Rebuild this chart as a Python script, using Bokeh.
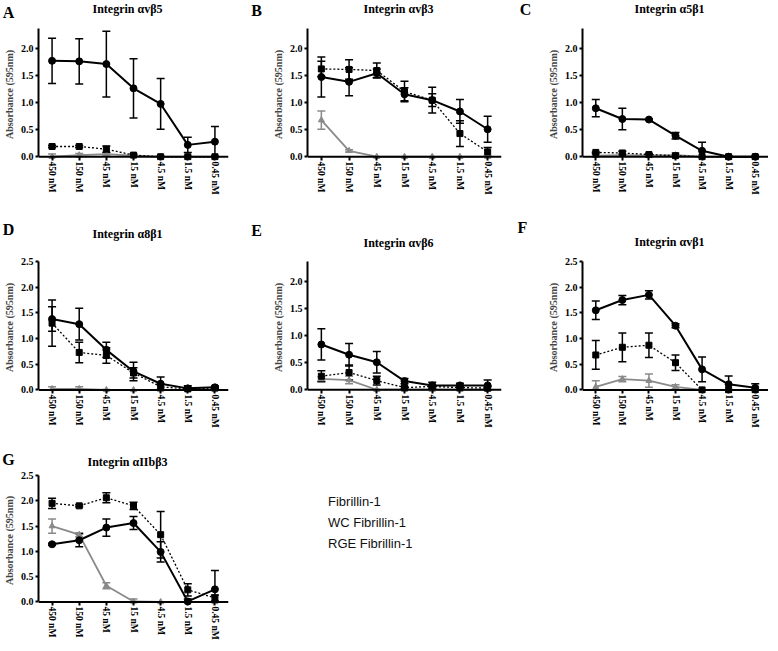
from bokeh.plotting import figure
from bokeh.models import (ColumnDataSource, FactorRange, Range1d, Whisker, TeeHead, Span,
                          FixedTicker, PrintfTickFormatter, Label, Legend, LegendItem)
from bokeh.layouts import row, column
from bokeh.embed import file_html
from bokeh.resources import INLINE

# ---------------- data ----------------
concentrations = ["450 nM", "150 nM", "45 nM", "15 nM", "4.5 nM", "1.5 nM", "0.45 nM"]
series_names = ["Fibrillin-1", "WC Fibrillin-1", "RGE Fibrillin-1"]

# A: Integrin avb5
a_fib = [1.78, 1.77, 1.72, 1.27, 0.98, 0.22, 0.28]
a_fib_err = [0.42, 0.42, 0.61, 0.55, 0.47, 0.14, 0.28]
a_wc = [0.19, 0.19, 0.14, 0.03, 0.0, 0.0, 0.0]
a_wc_err = [0.02, 0.02, 0.06, 0.02, 0.01, 0.01, 0.01]
a_rge = [0.0, 0.03, 0.05, 0.02, 0.0, 0.0, 0.0]
a_rge_err = [0.05, 0.03, 0.03, 0.02, 0.01, 0.01, 0.01]

# B: Integrin avb3
b_fib = [1.48, 1.39, 1.55, 1.16, 1.05, 0.84, 0.51]
b_fib_err = [0.37, 0.26, 0.08, 0.12, 0.24, 0.22, 0.24]
b_wc = [1.63, 1.62, 1.60, 1.21, 1.05, 0.43, 0.09]
b_wc_err = [0.14, 0.18, 0.14, 0.19, 0.12, 0.24, 0.08]
b_rge = [0.68, 0.11, 0.0, 0.0, 0.0, 0.0, 0.0]
b_rge_err = [0.17, 0.02, 0.0, 0.0, 0.0, 0.0, 0.0]

# C: Integrin a5b1
c_fib = [0.90, 0.70, 0.69, 0.39, 0.11, 0.0, 0.0]
c_fib_err = [0.16, 0.20, 0.01, 0.06, 0.16, 0.02, 0.01]
c_wc = [0.08, 0.07, 0.04, 0.02, 0.0, 0.0, 0.0]
c_wc_err = [0.01, 0.03, 0.02, 0.01, 0.0, 0.0, 0.0]
c_rge = [0.02, 0.03, 0.02, 0.03, 0.0, 0.0, 0.0]
c_rge_err = [0.02, 0.02, 0.02, 0.04, 0.0, 0.0, 0.0]

# D: Integrin a8b1
d_fib = [1.38, 1.28, 0.78, 0.36, 0.12, 0.03, 0.05]
d_fib_err = [0.24, 0.31, 0.15, 0.18, 0.13, 0.05, 0.02]
d_wc = [1.30, 0.73, 0.67, 0.33, 0.06, 0.02, 0.04]
d_wc_err = [0.45, 0.20, 0.15, 0.10, 0.05, 0.02, 0.02]
d_rge = [0.02, 0.02, 0.0, 0.0, 0.0, 0.0, 0.0]
d_rge_err = [0.04, 0.04, 0.01, 0.0, 0.0, 0.0, 0.0]

# E: Integrin avb6
e_fib = [0.84, 0.65, 0.51, 0.16, 0.08, 0.08, 0.08]
e_fib_err = [0.29, 0.21, 0.20, 0.05, 0.06, 0.04, 0.10]
e_wc = [0.25, 0.32, 0.17, 0.04, 0.06, 0.04, 0.03]
e_wc_err = [0.10, 0.14, 0.08, 0.02, 0.03, 0.03, 0.03]
e_rge = [0.20, 0.18, 0.0, 0.0, 0.0, 0.0, 0.0]
e_rge_err = [0.04, 0.07, 0.0, 0.0, 0.0, 0.0, 0.0]

# F: Integrin avb1
f_fib = [1.55, 1.75, 1.85, 1.25, 0.40, 0.11, 0.04]
f_fib_err = [0.18, 0.09, 0.08, 0.04, 0.24, 0.16, 0.08]
f_wc = [0.68, 0.83, 0.87, 0.53, 0.0, 0.0, 0.0]
f_wc_err = [0.28, 0.28, 0.24, 0.15, 0.0, 0.0, 0.0]
f_rge = [0.06, 0.21, 0.18, 0.06, 0.0, 0.0, 0.0]
f_rge_err = [0.12, 0.05, 0.13, 0.04, 0.0, 0.0, 0.0]

# G: Integrin aIIbb3
g_fib = [1.14, 1.22, 1.47, 1.56, 0.99, 0.01, 0.25]
g_fib_err = [0.02, 0.13, 0.17, 0.13, 0.20, 0.05, 0.37]
g_wc = [1.95, 1.90, 2.06, 1.90, 1.33, 0.24, 0.08]
g_wc_err = [0.10, 0.02, 0.10, 0.07, 0.46, 0.12, 0.06]
g_rge = [1.50, 1.33, 0.32, 0.01, 0.0, 0.0, 0.0]
g_rge_err = [0.14, 0.04, 0.06, 0.05, 0.0, 0.0, 0.0]

yticks_short = [0.0, 0.5, 1.0, 1.5, 2.0]
yticks_tall = [0.0, 0.5, 1.0, 1.5, 2.0, 2.5]

# ---------------- styling ----------------
SERIF = "Liberation Serif"
GRAY = "#8a8a8a"
YMIN = -0.07
STYLES = [
    dict(color="black", width=2.0, dash="solid", marker="circle", size=7, legend_dash="solid", legend_width=2.5),
    dict(color="black", width=1.3, dash="2 2", marker="square", size=6, legend_dash="2 2", legend_width=1.5),
    dict(color=GRAY, width=1.8, dash="solid", marker="triangle", size=6, legend_dash="solid", legend_width=1.5),
]


def add_series(p, mean, err, st):
    src = ColumnDataSource(dict(
        x=concentrations, y=mean,
        upper=[m + e for m, e in zip(mean, err)],
        lower=[max(m - e, 0.0) for m, e in zip(mean, err)],
    ))
    w = Whisker(source=src, base="x", upper="upper", lower="lower", dimension="height",
                line_color=st["color"], line_width=1.5,
                upper_head=TeeHead(size=8, line_color=st["color"], line_width=1.5),
                lower_head=TeeHead(size=8, line_color=st["color"], line_width=1.5))
    p.add_layout(w)
    p.line("x", "y", source=src, line_color=st["color"], line_width=st["width"],
           line_dash=st["dash"])
    p.scatter("x", "y", source=src, marker=st["marker"], size=st["size"],
              fill_color=st["color"], line_color=st["color"])


def blank_figure(x0, y0, w, h):
    # frame covers the whole canvas; data units = layout pixels (y downward)
    s = figure(frame_width=w, frame_height=h,
               min_border_left=0, min_border_right=0, min_border_top=0, min_border_bottom=0,
               x_range=Range1d(x0, x0 + w), y_range=Range1d(y0 + h, y0),
               x_axis_location=None, y_axis_location=None,
               output_backend="svg", toolbar_location=None)
    s.outline_line_color = None
    s.grid.visible = False
    return s


def make_panel(letter, title, series, ymax, yticks, cell, frame, strip_h, letter_pos, title_y):
    cx, cy, cw, ch = cell          # cell in layout pixels
    fx, fy, fw, fh = frame         # plot frame in layout pixels
    # header strip holding panel letter and title
    s = blank_figure(cx, cy, cw, strip_h)
    s.add_layout(Label(x=letter_pos[0], y=letter_pos[1], text=letter,
                       text_font=SERIF, text_font_style="bold", text_font_size="16px",
                       text_align="center", text_baseline="middle", text_color="black"))
    s.add_layout(Label(x=fx + fw / 2, y=title_y, text=title,
                       text_font=SERIF, text_font_style="bold", text_font_size="12px",
                       text_align="center", text_baseline="middle", text_color="black"))
    py = cy + strip_h
    p = figure(frame_width=fw, frame_height=fh,
               min_border_left=fx - cx, min_border_top=fy - py,
               min_border_right=cx + cw - (fx + fw),
               min_border_bottom=cy + ch - (fy + fh),
               x_range=FactorRange(factors=concentrations, range_padding=0),
               y_range=Range1d(YMIN, ymax),
               output_backend="svg", toolbar_location=None)
    p.outline_line_color = None
    p.grid.visible = False

    # draw order: RGE, WC, Fibrillin-1
    for (mean, err), st in reversed(list(zip(series, STYLES))):
        add_series(p, mean, err, st)

    # x axis line drawn at absorbance 0
    p.add_layout(Span(location=0, dimension="width", line_color="black", line_width=2))

    for ax in (p.xaxis[0], p.yaxis[0]):
        ax.axis_line_width = 2
        ax.axis_line_color = "black"
        ax.major_tick_line_width = 2
        ax.major_tick_line_color = "black"
        ax.minor_tick_line_color = None
        ax.major_label_text_font = SERIF
        ax.major_label_text_font_style = "bold"
        ax.major_label_text_color = "black"
    p.yaxis.major_tick_in = 0
    p.yaxis.major_tick_out = 3
    p.yaxis.major_label_standoff = 2
    p.yaxis.major_label_text_font_size = "10px"
    p.xaxis.axis_line_color = None
    p.xaxis.major_tick_in = 4
    p.xaxis.major_tick_out = 0
    p.xaxis.major_label_standoff = 1
    p.xaxis.major_label_text_font_size = "9.5px"
    p.xaxis.major_label_orientation = "vertical"
    p.yaxis.axis_label = "Absorbance (595nm)"
    p.yaxis.axis_label_text_font = SERIF
    p.yaxis.axis_label_text_font_style = "bold"
    p.yaxis.axis_label_text_font_size = "10px"
    p.yaxis.axis_label_standoff = 3
    p.yaxis.ticker = FixedTicker(ticks=yticks)
    p.yaxis.formatter = PrintfTickFormatter(format="%.1f")
    p.yaxis.bounds = (0, ymax)
    return s, p


# layout geometry: cell (x, y, w, h), frame (x, y, w, h), strip height, letter centre, title centre y
sA, pA = make_panel("A", "Integrin αvβ5", [(a_fib, a_fib_err), (a_wc, a_wc_err), (a_rge, a_rge_err)],
                    2.38, yticks_short, (8, 8, 247, 197), (40, 36, 190, 132), 26, (16, 20), 16)
sB, pB = make_panel("B", "Integrin αvβ3", [(b_fib, b_fib_err), (b_wc, b_wc_err), (b_rge, b_rge_err)],
                    2.38, yticks_short, (255, 8, 255, 197), (309, 36, 194, 132), 26, (264, 18), 16)
sC, pC = make_panel("C", "Integrin α5β1", [(c_fib, c_fib_err), (c_wc, c_wc_err), (c_rge, c_rge_err)],
                    2.38, yticks_short, (510, 8, 260, 197), (584, 36, 186, 132), 26, (533, 17), 16)
sD, pD = make_panel("D", "Integrin α8β1", [(d_fib, d_fib_err), (d_wc, d_wc_err), (d_rge, d_rge_err)],
                    2.5, yticks_tall, (8, 205, 247, 232), (40, 269, 190, 132), 58, (16, 237), 241)
sE, pE = make_panel("E", "Integrin αvβ6", [(e_fib, e_fib_err), (e_wc, e_wc_err), (e_rge, e_rge_err)],
                    2.38, yticks_short, (255, 205, 255, 232), (309, 269, 194, 132), 58, (264, 238), 250)
sF, pF = make_panel("F", "Integrin αvβ1", [(f_fib, f_fib_err), (f_wc, f_wc_err), (f_rge, f_rge_err)],
                    2.5, yticks_tall, (510, 205, 260, 232), (584, 269, 186, 132), 58, (530, 235), 249)
sG, pG = make_panel("G", "Integrin αIIbβ3", [(g_fib, g_fib_err), (g_wc, g_wc_err), (g_rge, g_rge_err)],
                    2.5, yticks_tall, (8, 437, 247, 213), (40, 482, 190, 130), 39, (16, 466), 468)

# ---------------- legend panel (same borders as panel G so the row stays aligned) ----------------
sL = blank_figure(255, 437, 515, 39)
lg = figure(frame_width=502, frame_height=130, min_border_left=13, min_border_top=6,
            min_border_right=0, min_border_bottom=38,
            x_range=Range1d(0, 1), y_range=Range1d(0, 1),
            x_axis_location=None, y_axis_location=None,
            output_backend="svg", toolbar_location=None)
lg.outline_line_color = None
lg.grid.visible = False
items = []
for name, st in zip(series_names, STYLES):
    r = lg.line(x=[], y=[], line_color=st["color"], line_width=st["legend_width"],
                line_dash=st["legend_dash"])
    items.append(LegendItem(label=name, renderers=[r]))
legend = Legend(items=items, location="top_left", margin=19, padding=0, spacing=6,
                glyph_width=33, glyph_height=15, label_standoff=10,
                label_text_font="Liberation Sans", label_text_font_size="13px",
                label_text_color="#111111", border_line_color=None, background_fill_alpha=0)
lg.add_layout(legend)

layout = column(row(sA, sB, sC), row(pA, pB, pC),
                row(sD, sE, sF), row(pD, pE, pF),
                row(sG, sL), row(pG, lg))

open("out.html", "w").write(file_html(layout, INLINE))
